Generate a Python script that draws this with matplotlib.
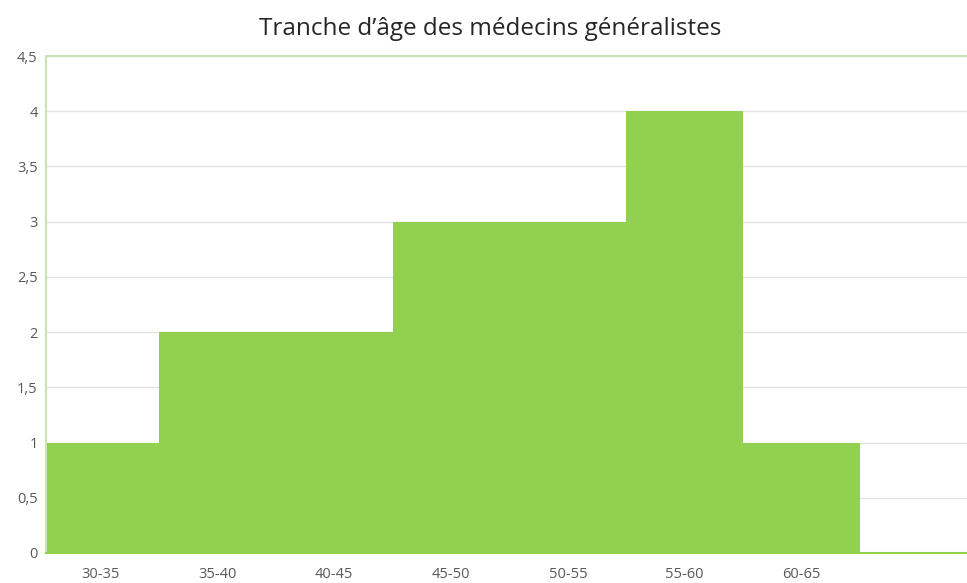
#!/usr/bin/env python3

"""
Tranche d'âge des médecins généralistes, recreated as a bar chart.
"""

import matplotlib
matplotlib.use("Agg")
import matplotlib.pyplot as plt
from matplotlib.ticker import FuncFormatter, MultipleLocator

categories = ["30-35", "35-40", "40-45", "45-50", "50-55", "55-60", "60-65", ""]
counts = [1, 2, 2, 3, 3, 4, 1, 0]

TITLE = "Tranche d\u2019âge des médecins généralistes"
BAR_COLOR = "#92D050"
BORDER_COLOR = "#C9E3B6"
GRID_COLOR = "#E3E3E3"
TEXT_COLOR = "#595959"

plt.rcParams["font.family"] = ["Open Sans", "DejaVu Sans"]

fig = plt.figure(figsize=(9.67, 5.83), dpi=100)
ax = fig.add_axes([46 / 967, 30 / 583, 921 / 967, 497 / 583])

xs = range(len(categories))
ax.bar(xs, counts, width=1.0, color=BAR_COLOR, edgecolor="none", zorder=2)

# first bar is partly hidden behind the left border, last one runs off the edge
ax.set_xlim(-0.466, 7.416)
ax.set_ylim(0, 4.5)
ax.yaxis.set_major_locator(MultipleLocator(0.5))
ax.yaxis.set_major_formatter(
    FuncFormatter(lambda v, _: f"{v:g}".replace(".", ",")))
ax.set_xticks(list(xs))
ax.set_xticklabels(categories)

ax.grid(axis="y", color=GRID_COLOR, linewidth=1, zorder=0)
ax.tick_params(axis="both", length=0, colors=TEXT_COLOR, labelsize=10.5)
ax.tick_params(axis="x", pad=10)
ax.tick_params(axis="y", pad=6)

for side in ("top", "left", "bottom"):
    ax.spines[side].set_color(BORDER_COLOR)
    ax.spines[side].set_linewidth(1.5)
ax.spines["bottom"].set_color(BAR_COLOR)
ax.spines["right"].set_visible(False)

fig.text(490 / 967, 1 - 29 / 583, TITLE, ha="center", va="center",
         fontsize=17.5, color="#262626")

fig.savefig("out.png", dpi=100)
